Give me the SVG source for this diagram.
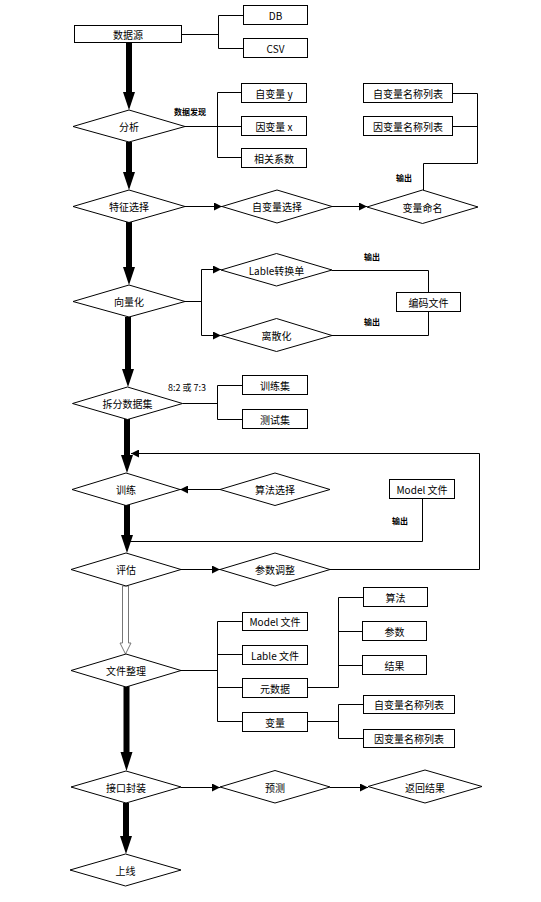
<svg xmlns="http://www.w3.org/2000/svg" width="541" height="902" viewBox="0 0 541 902">
<defs>
<marker id="ah" viewBox="0 0 10 10" refX="10" refY="5" markerWidth="9" markerHeight="8" markerUnits="userSpaceOnUse" orient="auto">
<path d="M0,0 L10,5 L0,10 z" fill="#000"/>
</marker>
</defs>
<style>
.n{fill:#fff;stroke:#000;stroke-width:1}
.t{font-family:"Noto Sans CJK SC","Liberation Sans",sans-serif;font-size:10px;fill:#000;text-anchor:middle;dominant-baseline:central}
.s{font-family:"Noto Sans CJK SC","Liberation Sans",sans-serif;font-size:8px;font-weight:bold;fill:#000;text-anchor:middle;dominant-baseline:central}
.c{fill:none;stroke:#000;stroke-width:1}
.a{fill:none;stroke:#000;stroke-width:1;marker-end:url(#ah)}
.thick{fill:#000;stroke:none}
.hollow{fill:#fff;stroke:#777;stroke-width:1}
</style>
<rect width="541" height="902" fill="#fff"/>
<g id="connectors">
<path class="c" d="M182,34.5 H218.5 M218.5,15.5 V48.5 M218.5,15.5 H243 M218.5,48.5 H243"/>
<path class="c" d="M185,126.5 H217.5 M217.5,92.5 V157.5 M217.5,92.5 H241 M217.5,126.5 H241 M217.5,157.5 H241"/>
<path class="c" d="M453,93.5 H477.5 V163.5 H423.5 V190 M453,126.5 H477.5"/>
<path class="a" d="M185,206.5 H222"/>
<path class="a" d="M332,206.5 H367"/>
<path class="c" d="M185,301.5 H201.5 M201.5,269.5 V335.5"/>
<path class="a" d="M201.5,269.5 H221"/>
<path class="a" d="M201.5,335.5 H221"/>
<path class="c" d="M332,270.5 H428.5 V292 M428.5,312 V335.5 H332"/>
<path class="c" d="M182.5,403.5 H217.5 M217.5,385.5 V419.5 M217.5,385.5 H242 M217.5,419.5 H242"/>
<path class="a" d="M330,569.5 H479.5 V453.5 H131"/>
<path class="a" d="M220,489.5 H180"/>
<path class="c" d="M422.5,498 V541.5 H130"/>
<path class="a" d="M181,569.5 H220"/>
<path class="c" d="M181,670.5 H217.5 M217.5,621.5 V721.5 M217.5,621.5 H242 M217.5,654.5 H242 M217.5,687.5 H242 M217.5,721.5 H242"/>
<path class="c" d="M308,687.5 H338.5 V597.5 M338.5,597.5 H363 M338.5,631.5 H362 M338.5,665.5 H362"/>
<path class="c" d="M308,721.5 H338.5 M338.5,704.5 V738.5 M338.5,704.5 H363 M338.5,738.5 H363"/>
<path class="a" d="M181,787.5 H220"/>
<path class="a" d="M330,787.5 H368"/>
<polygon class="thick" points="126,43 132,43 132,92 135,92 129,110 123,92 126,92"/>
<polygon class="thick" points="126,142 132,142 132,172 135,172 129,190 123,172 126,172"/>
<polygon class="thick" points="126,222 132,222 132,267 135,267 129,285 123,267 126,267"/>
<polygon class="thick" points="125,317 131,317 131,369 134,369 128,387 122,369 125,369"/>
<polygon class="thick" points="124,419 130,419 130,455 133,455 127,473 121,455 124,455"/>
<polygon class="thick" points="124,505 130,505 130,535 133,535 127,553 121,535 124,535"/>
<polygon class="hollow" points="122.5,586 128.5,586 128.5,643 131,643 125.5,654 120,643 122.5,643"/>
<polygon class="thick" points="123.5,686 129.5,686 129.5,752 132.5,752 126.5,771 120.5,752 123.5,752"/>
<polygon class="thick" points="123,803 129,803 129,836 132,836 126,854 120,836 123,836"/>
</g>
<g id="n-source"><rect class="n" x="74.5" y="25.5" width="107" height="17"/><text class="t" x="128" y="34">数据源</text></g>
<g id="n-db"><rect class="n" x="243.5" y="5.5" width="64" height="19"/><text class="t" x="275.5" y="15">DB</text></g>
<g id="n-csv"><rect class="n" x="243.5" y="38.5" width="64" height="19"/><text class="t" x="275.5" y="48">CSV</text></g>
<g id="n-analyze"><polygon class="n" points="73,126.5 129,110 185,126.5 129,142"/><text class="t" x="129" y="126.5">分析</text></g>
<text class="s" x="190" y="111">数据发现</text>
<g id="n-y"><rect class="n" x="241.5" y="83.5" width="65" height="19"/><text class="t" x="274" y="93">自变量 y</text></g>
<g id="n-x"><rect class="n" x="241.5" y="116.5" width="65" height="19"/><text class="t" x="274" y="126">因变量 x</text></g>
<g id="n-corr"><rect class="n" x="241.5" y="148.5" width="65" height="19"/><text class="t" x="274" y="158">相关系数</text></g>
<g id="n-xlist1"><rect class="n" x="363.5" y="83.5" width="89" height="19"/><text class="t" x="408" y="93">自变量名称列表</text></g>
<g id="n-ylist1"><rect class="n" x="363.5" y="116.5" width="89" height="19"/><text class="t" x="408" y="126.5">因变量名称列表</text></g>
<text class="s" x="404" y="177">输出</text>
<g id="n-feature"><polygon class="n" points="73,206.5 129,190 185,206.5 129,222.5"/><text class="t" x="129" y="206.5">特征选择</text></g>
<g id="n-xsel"><polygon class="n" points="222,206.5 277,190 332,206.5 277,223"/><text class="t" x="277" y="206.5">自变量选择</text></g>
<g id="n-naming"><polygon class="n" points="367,207 422.5,190 478,207 422.5,223.5"/><text class="t" x="422.5" y="207">变量命名</text></g>
<g id="n-vector"><polygon class="n" points="73,301.5 129,285 185,301.5 129,317"/><text class="t" x="129" y="301.5">向量化</text></g>
<g id="n-label"><polygon class="n" points="221,270 276.5,253.5 332,270 276.5,286"/><text class="t" x="276.5" y="270">Lable转换单</text></g>
<g id="n-discrete"><polygon class="n" points="221,335.5 276.5,318.5 332,335.5 276.5,351.5"/><text class="t" x="276.5" y="335.5">离散化</text></g>
<g id="n-encode"><rect class="n" x="396.5" y="292.5" width="64" height="19"/><text class="t" x="428.5" y="302">编码文件</text></g>
<text class="s" x="372" y="256">输出</text>
<text class="s" x="372" y="321">输出</text>
<g id="n-split"><polygon class="n" points="72.5,403.5 127.5,387 182.5,403.5 127.5,419.5"/><text class="t" x="127.5" y="403.5">拆分数据集</text></g>
<text class="t" x="187" y="387" style="font-size:9px">8:2 或 7:3</text>
<g id="n-trainset"><rect class="n" x="242.5" y="375.5" width="65" height="19"/><text class="t" x="275" y="385">训练集</text></g>
<g id="n-testset"><rect class="n" x="242.5" y="409.5" width="65" height="19"/><text class="t" x="275" y="419">测试集</text></g>
<g id="n-train"><polygon class="n" points="72,489.5 126,473 180,489.5 126,505.5"/><text class="t" x="126" y="489.5">训练</text></g>
<g id="n-algo"><polygon class="n" points="220,489.5 275,473 330,489.5 275,505.5"/><text class="t" x="275" y="489.5">算法选择</text></g>
<g id="n-model1"><rect class="n" x="389.5" y="479.5" width="65" height="19"/><text class="t" x="422" y="489">Model 文件</text></g>
<text class="s" x="400" y="520">输出</text>
<g id="n-eval"><polygon class="n" points="71,569.5 126,553 181,569.5 126,586"/><text class="t" x="126" y="569.5">评估</text></g>
<g id="n-tune"><polygon class="n" points="220,569.5 275,553 330,569.5 275,586"/><text class="t" x="275" y="569.5">参数调整</text></g>
<g id="n-files"><polygon class="n" points="71,670.5 126,654 181,670.5 126,687"/><text class="t" x="126" y="670.5">文件整理</text></g>
<g id="n-model2"><rect class="n" x="242.5" y="612.5" width="65" height="18"/><text class="t" x="275" y="621.5">Model 文件</text></g>
<g id="n-lablefile"><rect class="n" x="242.5" y="645.5" width="65" height="19"/><text class="t" x="275" y="655">Lable 文件</text></g>
<g id="n-meta"><rect class="n" x="242.5" y="678.5" width="65" height="19"/><text class="t" x="275" y="688">元数据</text></g>
<g id="n-var"><rect class="n" x="242.5" y="712.5" width="65" height="19"/><text class="t" x="275" y="722">变量</text></g>
<g id="n-algo2"><rect class="n" x="363.5" y="587.5" width="64" height="19"/><text class="t" x="395.5" y="597">算法</text></g>
<g id="n-param"><rect class="n" x="362.5" y="621.5" width="64" height="19"/><text class="t" x="394.5" y="631">参数</text></g>
<g id="n-result"><rect class="n" x="362.5" y="655.5" width="64" height="19"/><text class="t" x="394.5" y="665">结果</text></g>
<g id="n-xlist2"><rect class="n" x="363.5" y="695.5" width="91" height="18"/><text class="t" x="409" y="704.5">自变量名称列表</text></g>
<g id="n-ylist2"><rect class="n" x="363.5" y="729.5" width="91" height="18"/><text class="t" x="409" y="738.5">因变量名称列表</text></g>
<g id="n-api"><polygon class="n" points="71,787 126,771 181,787 126,803"/><text class="t" x="126" y="787.5">接口封装</text></g>
<g id="n-predict"><polygon class="n" points="220,787 275,770.5 330,787 275,803"/><text class="t" x="275" y="787.5">预测</text></g>
<g id="n-return"><polygon class="n" points="368,786.5 425,770 482,786.5 425,803"/><text class="t" x="425" y="787">返回结果</text></g>
<g id="n-online"><polygon class="n" points="70,870 125.5,854 181,870 125.5,886"/><text class="t" x="125.5" y="870.5">上线</text></g>
</svg>
